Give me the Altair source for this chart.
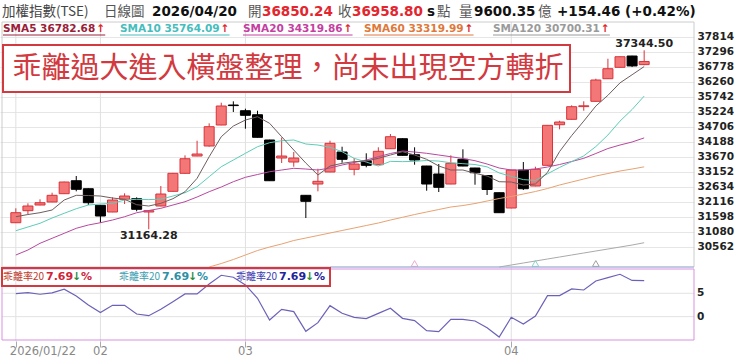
import altair as alt
import pandas as pd

# ---------------- data ----------------
opens = [31391, 31806, 32002, 32106, 32393, 32841, 32565, 31992, 31761, 32199,
         32220, 31761, 31968, 32475, 33097, 33694, 34040, 34765, 35455, 35259,
         35120, 34247, 33625, 33487, 32337, 32727, 33142, 33832, 33235, 33532,
         33394, 33946, 34292, 33739, 33349, 33073, 32727, 33580, 33280, 33021,
         32427, 31899, 33211, 32658, 33373, 34775, 34962, 35400, 35583, 36364,
         36757, 37147, 36850.24]
highs = [31888, 32061, 32199, 32427, 32810, 33004, 32575, 32000, 32268, 32406,
         32268, 31830, 32658, 33110, 33718, 34223, 34823, 35535, 35583, 35328,
         35259, 34255, 34333, 33832, 32345, 33256, 34223, 34015, 33625, 33788,
         33995, 34454, 34300, 33995, 33355, 33418, 33718, 33926, 33285, 33030,
         32435, 33218, 33487, 33325, 34760, 34913, 35445, 35583, 36364, 37054,
         37130, 37155, 37344.50]
lows = [31380, 31692, 31995, 32100, 32385, 32475, 32002, 31391, 31755, 32037,
        31785, 31164.28, 31960, 32470, 33090, 33688, 34015, 34758, 35214, 34637,
        34330, 32835, 33453, 33325, 31553, 32475, 33135, 33463, 33028, 33304,
        33388, 33940, 33710, 33394, 32496, 32451, 32720, 33340, 32703, 32348,
        31730, 31890, 32520, 32650, 33365, 34616, 34955, 35259, 35575, 36357,
        36750, 36767, 36830]
closes = [31737, 31968, 32082, 32337, 32797, 32545, 32082, 31623, 32175, 32313,
          31854, 31806, 32382, 33097, 33601, 33763, 34706, 35421, 35435, 35100,
          34340, 32841, 33694, 33625, 32130, 32821, 34133, 33580, 33418, 33373,
          33857, 34361, 33718, 33556, 32727, 32614, 33442, 33349, 33118, 32538,
          31737, 33211, 32565, 33235, 34754, 34868, 35397, 35428, 36319, 36709,
          37123, 36804.34, 36958.80]

sma5 = [31598, 31674, 31737, 31830, 32175, 32337, 32330, 32313, 32244, 32199,
        32013, 31968, 32061, 32220, 32462, 32924, 33670, 34361, 34730, 34937,
        35051, 34824, 34361, 33902, 33450, 33038, 33349, 33442, 33498, 33522,
        33615, 33729, 33843, 33729, 33580, 33349, 33211, 33211, 33097, 33004,
        32807, 32797, 32693, 32728, 33130, 33850, 34400, 34900, 35420, 35790,
        36220, 36500, 36782.68]
sma10 = [31115, 31243, 31371, 31554, 31716, 31875, 32002, 32037, 32061, 32175,
         32199, 32190, 32205, 32313, 32427, 32634, 32980, 33325, 33556, 33788,
         34015, 34154, 34223, 34247, 34109, 34074, 33995, 33843, 33615, 33487,
         33349, 33510, 33500, 33510, 33540, 33520, 33460, 33430, 33400, 33320,
         33110, 32990, 32880, 32850, 33080, 33300, 33500, 33700, 34020, 34420,
         34900, 35300, 35764.09]
sma20 = [30276, 30449, 30680, 30853, 31025, 31198, 31312, 31391, 31484, 31598,
         31736, 31812, 31888, 32002, 32116, 32279, 32462, 32624, 32807, 32959,
         33056, 33152, 33211, 33270, 33245, 33211, 33280, 33384, 33470, 33556,
         33670, 33781, 33867, 33832, 33788, 33729, 33670, 33608, 33532, 33418,
         33280, 33211, 33211, 33245, 33314, 33401, 33504, 33615, 33781, 33953,
         34074, 34178, 34319.86]
sma60_start = 16
sma60 = [29861, 29982, 30121, 30276, 30431, 30552, 30656, 30777, 30863, 30949,
         31036, 31122, 31208, 31295, 31381, 31484, 31578, 31674, 31761, 31847,
         31933, 31985, 32054, 32140, 32227, 32296, 32382, 32469, 32572, 32693,
         32797, 32900, 33004, 33090, 33176, 33245, 33319.99]
sma120_start = 40
sma120 = [29861, 29931, 30000, 30069, 30138, 30207, 30276, 30345, 30414, 30483,
          30552, 30621, 30700.31]

bias20 = [4.93, 5.14, 4.8, 5.08, 5.87, 4.43, 2.5, 0.86, 2.43, 2.43,
          0.57, 0.21, 1.57, 3.21, 4.86, 4.86, 7.0, 8.86, 8.43, 6.79,
          3.93, -0.71, 1.57, 1.07, -3.14, -1.29, 2.36, 0.71, -0.14, -0.43,
          0.71, 1.79, -0.36, -0.86, -3.0, -3.21, -0.57, -0.57, -0.93, -2.36,
          -4.36, -0.14, -1.57, 0.14, 4.5, 4.5, 5.93, 5.71, 7.64, 8.36,
          9.07, 7.75, 7.69]

price_ticks = [30562, 31080, 31598, 32116, 32634, 33152, 33670, 34188,
               34706, 35224, 35742, 36260, 36778, 37296, 37814]
bias_ticks = [0, 5]
month_idx = [0, 7, 19, 41]
month_labels = ["2026/01/22", "02", "03", "04"]
cross_idx = [33, 43, 48]          # small triangles at the bottom of the main panel
cross_kind = ["SMA20", "SMA10", "SMA120"]

sma_names = ["SMA5", "SMA10", "SMA20", "SMA60", "SMA120"]
sma_header = ["36782.68", "35764.09", "34319.86", "33319.99", "30700.31"]
title_text = "乖離過大進入橫盤整理，尚未出現空方轉折"

# ---------------- layout / style ----------------
W, H = 694, 341
XDOM = [-0.897, 55.71]
MAIN_DOM = [29862, 38322]
MAIN_RANGE = [267, 22]
BIAS_DOM = [-5.0, 10.2]
BIAS_RANGE = [340, 269]
CJK = "Noto Sans CJK TC"
NUM = "DejaVu Sans"
RED = "#E3262E"
UP_FILL, UP_LINE, DOWN = "#F47777", "#D8323A", "#000000"
LINE_COLORS = {"SMA5": "#6E5E5E", "SMA10": "#5CCDB8", "SMA20": "#B8489F",
               "SMA60": "#E8A272", "SMA120": "#AAAAAA"}
LEGEND_COLORS = ["#9A2038", "#45BDBD", "#C43FA0", "#E0783A", "#9A9A9A"]
TRI_COLORS = {"SMA20": "#E08AB8", "SMA10": "#5CC7B5", "SMA120": "#777777"}

one = alt.Data(values=[{"a": 1}])

candles = pd.DataFrame({"i": range(len(closes)), "open": opens, "high": highs,
                        "low": lows, "close": closes})
candles["dir"] = ["up" if c >= o else "down" for o, c in zip(opens, closes)]

sma_series = {"SMA5": (0, sma5), "SMA10": (0, sma10), "SMA20": (0, sma20),
              "SMA60": (sma60_start, sma60), "SMA120": (sma120_start, sma120)}
biasdf = pd.DataFrame({"i": range(len(bias20)), "b": bias20})

xscale = alt.Scale(domain=XDOM, nice=False, zero=False)
xaxis = alt.Axis(values=month_idx, labels=False, title=None, domain=False, grid=False,
                 tickColor="#aaaaaa", tickSize=6)
X = alt.X("i:Q", scale=xscale, axis=xaxis)

yscale = alt.Scale(domain=MAIN_DOM, range=MAIN_RANGE, nice=False, zero=False)
yaxis = alt.Axis(orient="right", values=price_ticks, format="d", title=None, grid=True,
                 gridColor="#e6e6e6", ticks=False, domain=False, labelFont=NUM,
                 labelFontWeight="bold", labelFontSize=10.5, labelColor="#222222",
                 labelPadding=3)
bscale = alt.Scale(domain=BIAS_DOM, range=BIAS_RANGE, nice=False, zero=False)
dir_fill = alt.Scale(domain=["up", "down"], range=[UP_FILL, DOWN])
dir_line = alt.Scale(domain=["up", "down"], range=[UP_LINE, DOWN])


def txt(s, x, y, color, size, font=NUM, weight="normal", align="left", baseline="middle"):
    return alt.Chart(one).mark_text(text=s, align=align, baseline=baseline, font=font,
                                    fontSize=size, fontWeight=weight, color=color).encode(
        x=alt.value(x), y=alt.value(y))


def box(x0, y0, x1, y1, stroke, sw=1, fill=None):
    kw = dict(stroke=stroke, strokeWidth=sw)
    if fill:
        kw["fill"] = fill
    else:
        kw["fillOpacity"] = 0
    return alt.Chart(one).mark_rect(**kw).encode(
        x=alt.value(x0), x2=alt.value(x1), y=alt.value(y0), y2=alt.value(y1))


# ---------------- main panel ----------------
months = alt.Chart(pd.DataFrame({"i": month_idx})).mark_rule(color="#e0e0e0").encode(
    x=X, y=alt.value(22), y2=alt.value(H))

month_first = alt.Chart(pd.DataFrame({"i": month_idx[:1], "t": month_labels[:1]})).mark_text(
    align="left", baseline="middle", dx=-6, font=NUM, fontSize=11.5, color="#888888").encode(
    x=X, y=alt.value(352), text="t:N")
month_rest = alt.Chart(pd.DataFrame({"i": month_idx[1:], "t": month_labels[1:]})).mark_text(
    align="center", baseline="middle", font=NUM, fontSize=11.5, color="#888888").encode(
    x=X, y=alt.value(352), text="t:N")

wicks = alt.Chart(candles).mark_rule(strokeWidth=1).encode(
    x=X, y=alt.Y("low:Q", scale=yscale, axis=yaxis), y2="high:Q",
    stroke=alt.Stroke("dir:N", scale=dir_line, legend=None))
bodies = alt.Chart(candles).mark_bar(size=10, strokeWidth=1).encode(
    x=X, y=alt.Y("open:Q", scale=yscale, axis=yaxis), y2="close:Q",
    fill=alt.Fill("dir:N", scale=dir_fill, legend=None),
    stroke=alt.Stroke("dir:N", scale=dir_line, legend=None))

sma_layers = []
for name in ["SMA120", "SMA60", "SMA20", "SMA10", "SMA5"]:
    start, vals = sma_series[name]
    d = pd.DataFrame({"i": range(start, start + len(vals)), "v": vals})
    sma_layers.append(alt.Chart(d).mark_line(strokeWidth=1, color=LINE_COLORS[name]).encode(
        x=X, y=alt.Y("v:Q", scale=yscale, axis=yaxis)))

lo_i = lows.index(min(lows))
hi_i = highs.index(max(highs))
lo_lab = alt.Chart(pd.DataFrame({"i": [lo_i], "p": [lows[lo_i]],
                                 "t": [f"{lows[lo_i]:.2f}"]})).mark_text(
    baseline="top", dy=1, font=NUM, fontWeight="bold", fontSize=11, color="#222222").encode(
    x=X, y=alt.Y("p:Q", scale=yscale, axis=yaxis), text="t:N")
hi_lab = alt.Chart(pd.DataFrame({"i": [hi_i], "p": [highs[hi_i]],
                                 "t": [f"{highs[hi_i]:.2f}"]})).mark_text(
    baseline="alphabetic", dy=-3, font=NUM, fontWeight="bold", fontSize=11,
    color="#222222").encode(
    x=X, y=alt.Y("p:Q", scale=yscale, axis=yaxis), text="t:N")

tri_layers = []
for ci, kind in zip(cross_idx, cross_kind):
    tri_layers.append(alt.Chart(pd.DataFrame({"i": [ci]})).mark_point(
        shape="triangle-up", filled=False, size=45, strokeWidth=1,
        color=TRI_COLORS[kind]).encode(x=X, y=alt.value(263.5)))

main = alt.layer(months, box(2, 22, 694, 267, "#cccccc"),
                 wicks, bodies, *sma_layers, lo_lab, hi_lab, *tri_layers,
                 month_first, month_rest)

# ---------------- bias panel ----------------
bgrid = alt.Chart(pd.DataFrame({"v": bias_ticks})).mark_rule(color="#e2e2e2").encode(
    y=alt.Y("v:Q", scale=bscale, axis=None), x=alt.value(2), x2=alt.value(694))
blab = alt.Chart(pd.DataFrame({"v": bias_ticks})).mark_text(
    align="left", baseline="middle", font=NUM, fontWeight="bold", fontSize=10.5,
    color="#222222").encode(y=alt.Y("v:Q", scale=bscale, axis=None), x=alt.value(697),
                            text="v:N")
bline = alt.Chart(biasdf).mark_line(strokeWidth=1.2, color="#6B62B8").encode(
    x=X, y=alt.Y("b:Q", scale=bscale, axis=None))
bias = alt.layer(bgrid, box(2, 269, 694, 340, "#D98FE0"), blab, bline)

# ---------------- decorations & texts ----------------
deco = []
deco.append(box(3, 45, 570, 92, "#D23A40", 2, fill="white"))
deco.append(txt(title_text, 288, 69, "#D23A40", 29, font=CJK, align="center"))
deco.append(alt.Chart(one).mark_rule(color="#9DB0E0").encode(
    x=alt.value(330), x2=alt.value(694), y=alt.value(267)))
deco += [
    txt("加權指數(TSE)", 2, 12, "#444444", 13.5, font=CJK),
    txt("日線圖", 104, 12, "#555555", 13.5, font=CJK),
    txt("2026/04/20", 152, 12, "#111111", 13.5, weight="bold"),
    txt("開", 248, 12, "#555555", 13.5, font=CJK),
    txt("36850.24", 262, 12, RED, 13.5, weight="bold"),
    txt("收", 338, 12, "#555555", 13.5, font=CJK),
    txt("36958.80", 352, 12, RED, 13.5, weight="bold"),
    txt("s", 427, 12, "#111111", 13.5, weight="bold"),
    txt("點", 437, 12, "#555555", 13.5, font=CJK),
    txt("量", 459, 12, "#555555", 13.5, font=CJK),
    txt("9600.35", 474, 12, "#111111", 13.5, weight="bold"),
    txt("億", 538, 12, "#555555", 13.5, font=CJK),
    txt("+154.46 (+0.42%)", 557, 12, "#111111", 13.5, weight="bold"),
]
leg_x = [3, 120, 243, 364, 493]
for name, val, col, x0 in zip(sma_names, sma_header, LEGEND_COLORS, leg_x):
    s = f"{name} {val}"
    w = 10.5 * (0.72 + 0.995 + 0.774 + 0.696 * (len(name) - 3) + 0.348 + 0.696 * 7 + 0.38)
    deco.append(txt(s, x0, 29, col, 10.5, weight="bold"))
    deco.append(txt("↑", x0 + w + 1, 29, "#E02424", 10.5, weight="bold"))
    deco.append(alt.Chart(one).mark_rule(color=col).encode(
        x=alt.value(x0), x2=alt.value(x0 + w + 10), y=alt.value(35)))
deco.append(box(2, 268, 330, 286, "#D23A40", 2))
groups = [(3, "#C0392B", "#D0243A"), (119, "#3C9DB0", "#2E8FA5"), (236, "#3A3AB0", "#23239A")]
for gx, c1, c2 in groups:
    deco.append(txt("乖離率20", gx, 277, c1, 10, font=CJK))
    deco.append(txt("7.69", gx + 43, 277, c2, 11, weight="bold"))
    deco.append(txt("↓", gx + 69, 277, "#2E8B3A", 11, weight="bold"))
    deco.append(txt("%", gx + 78, 277, c2, 11, weight="bold"))

chart = alt.layer(main, bias, *deco).resolve_scale(y="independent").properties(
    width=W, height=H, autosize=alt.AutoSizeParams(type="none"),
    padding={"left": 0, "top": 0, "right": 46, "bottom": 19},
    background="white").configure_view(stroke=None)

chart.save("out.html", embed_options={"renderer": "svg", "actions": False})
